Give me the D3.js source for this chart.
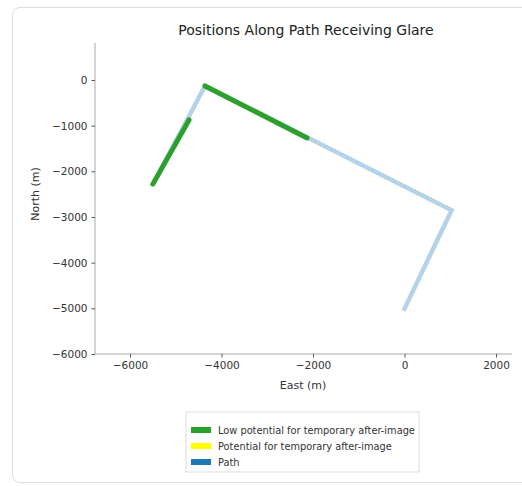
<!DOCTYPE html>
<html>
<head>
<meta charset="utf-8">
<script src="https://cdn.jsdelivr.net/npm/d3@7"></script>
<style>
  body { margin: 0; background: #fff; font-family: "DejaVu Sans", sans-serif; }
  #card { position: absolute; left: 12px; top: 7px; width: 520px; height: 476px;
          border: 1px solid #ddd; border-radius: 8px; box-sizing: border-box; }
</style>
</head>
<body>
<div id="card"></div>
<svg id="chart" width="522" height="486" style="position:absolute;left:0;top:0"></svg>
<script>
// path vertices (east, north) in metres
var pathEast = [-5500, -4360, 1030, -20];
var pathNorth = [-2280, -130, -2850, -5050];

// stretches of path with low potential for after-image
var lowSegEast = [[-5500, -4710], [-4360, -2130]];
var lowSegNorth = [[-2280, -875], [-130, -1270]];

var xTicks = [-6000, -4000, -2000, 0, 2000];
var yTicks = [0, -1000, -2000, -3000, -4000, -5000, -6000];

var legendLabels = ["Low potential for temporary after-image", "Potential for temporary after-image", "Path"];
var legendColors = ["#2ca02c", "#ffff00", "#1f77b4"];

var svg = d3.select("#chart");

var x = d3.scaleLinear().domain([-6765, 2350]).range([95, 512]);
var y = d3.scaleLinear().domain([-6000, 810]).range([354, 43]);

var line = d3.line()
    .x(function (d) { return x(d[0]); })
    .y(function (d) { return y(d[1]); });

var pathPts = pathEast.map(function (e, i) { return [e, pathNorth[i]]; });

svg.append("path")
    .attr("d", line(pathPts))
    .attr("fill", "none")
    .attr("stroke", "#1f77b4")
    .attr("stroke-opacity", 0.33)
    .attr("stroke-width", 4.5)
    .attr("stroke-linejoin", "miter");

for (let i = 0; i < lowSegEast.length; ++i) {
    var pts = lowSegEast[i].map(function (e, j) { return [e, lowSegNorth[i][j]]; });
    svg.append("path")
        .attr("d", line(pts))
        .attr("fill", "none")
        .attr("stroke", "#2ca02c")
        .attr("stroke-width", 5)
        .attr("stroke-linecap", "round");
}

var xAxis = svg.append("g")
    .attr("transform", "translate(0,354)")
    .call(d3.axisBottom(x).tickValues(xTicks).tickSize(3.5).tickPadding(4)
        .tickFormat(function (d) { return d < 0 ? "\u2212" + Math.abs(d) : d; }));
var yAxis = svg.append("g")
    .attr("transform", "translate(95,0)")
    .call(d3.axisLeft(y).tickValues(yTicks).tickSize(3.5).tickPadding(4)
        .tickFormat(function (d) { return d < 0 ? "\u2212" + Math.abs(d) : d; }));

[xAxis, yAxis].forEach(function (a) {
    a.select(".domain").attr("stroke", "#aaa").attr("stroke-width", 1);
    a.selectAll(".tick line").attr("stroke", "#555");
    a.selectAll(".tick text")
        .attr("font-family", "DejaVu Sans")
        .attr("font-size", 10.5)
        .attr("fill", "#333");
});
// remove end caps of domain path
xAxis.select(".domain").attr("d", "M95,0H512");
yAxis.select(".domain").attr("d", "M0,354V43");

svg.append("text")
    .text("Positions Along Path Receiving Glare")
    .attr("x", 306)
    .attr("y", 35)
    .attr("text-anchor", "middle")
    .attr("font-family", "DejaVu Sans")
    .attr("font-size", 14)
    .attr("fill", "#222");

svg.append("text")
    .text("East (m)")
    .attr("x", 303)
    .attr("y", 389)
    .attr("text-anchor", "middle")
    .attr("font-family", "DejaVu Sans")
    .attr("font-size", 11)
    .attr("fill", "#333");

svg.append("text")
    .text("North (m)")
    .attr("transform", "translate(39,194) rotate(-90)")
    .attr("text-anchor", "middle")
    .attr("font-family", "DejaVu Sans")
    .attr("font-size", 11)
    .attr("fill", "#333");

var leg = svg.append("g").attr("transform", "translate(186,412)");
leg.append("rect")
    .attr("width", 233).attr("height", 60)
    .attr("fill", "#fff").attr("stroke", "#ddd");
legendLabels.forEach(function (lab, i) {
    leg.append("rect")
        .attr("x", 5).attr("y", 15 + i * 16)
        .attr("width", 20).attr("height", 6)
        .attr("fill", legendColors[i]);
    leg.append("text")
        .text(lab)
        .attr("x", 32).attr("y", 22 + i * 16)
        .attr("font-family", "DejaVu Sans")
        .attr("font-size", 9.8)
        .attr("fill", "#333");
});
</script>
</body>
</html>
